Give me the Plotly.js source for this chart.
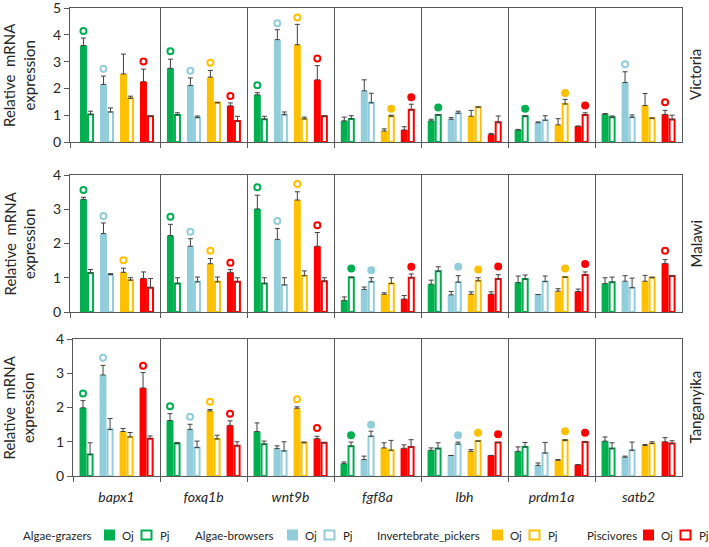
<!DOCTYPE html>
<html>
<head>
<meta charset="utf-8">
<script src="https://cdn.plot.ly/plotly-3.0.1.min.js"></script>
<style>html,body{margin:0;padding:0;background:#fff}#chart{width:709px;height:547px}</style>
</head>
<body>
<div id="chart"></div>
<script>
const genes = ['bapx1', 'foxq1b', 'wnt9b', 'fgf8a', 'lbh', 'prdm1a', 'satb2'];
const lakes = ['Victoria', 'Malawi', 'Tanganyika'];
const groups = ['Algae-grazers', 'Algae-browsers', 'Invertebrate_pickers', 'Piscivores'];
const colors = ['#00B050', '#92CDDC', '#FFC000', '#FF0000'];

// rows: grazers, browsers, invertebrate pickers, piscivores; cols: genes
const vicOj   = [[3.60, 2.75, 1.76, 0.79, 0.79, 0.45, 1.04],
                 [2.15, 2.11, 3.82, 1.91, 0.85, 0.72, 2.22],
                 [2.54, 2.42, 3.63, 0.41, 0.96, 0.64, 1.36],
                 [2.25, 1.35, 2.32, 0.45, 0.28, 0.59, 1.03]];
const vicOjSe = [[0.28, 0.34, 0.08, 0.14, 0.06, 0.02, 0.02],
                 [0.31, 0.28, 0.37, 0.41, 0.06, 0.03, 0.40],
                 [0.74, 0.25, 0.76, 0.08, 0.22, 0.23, 0.45],
                 [0.47, 0.11, 0.53, 0.12, 0.04, 0, 0.15]];
const vicPj   = [[1.03, 1.01, 0.85, 0.86, 1.01, 0.96, 0.92],
                 [1.12, 0.91, 1.02, 1.46, 1.07, 0.81, 0.92],
                 [1.63, 1.46, 0.86, 0.96, 1.30, 1.42, 0.89],
                 [0.96, 0.78, 0.96, 1.20, 0.74, 1.01, 0.84]];
const vicPjSe = [[0.12, 0.08, 0.11, 0.12, 0, 0.02, 0.05],
                 [0.15, 0.06, 0.10, 0.36, 0.08, 0.17, 0.09],
                 [0.08, 0.02, 0.07, 0.04, 0.01, 0.17, 0],
                 [0.01, 0.18, 0.01, 0.21, 0.23, 0.08, 0.16]];

const malOj   = [[3.29, 2.23, 3.01, 0.34, 0.81, 0.86, 0.83],
                 [2.29, 1.92, 2.12, 0.66, 0.50, 0.51, 0.90],
                 [1.16, 1.41, 3.27, 0.52, 0.52, 0.61, 0.90],
                 [0.98, 1.16, 1.92, 0.38, 0.52, 0.60, 1.42]];
const malOjSe = [[0.06, 0.33, 0.40, 0.10, 0.12, 0.19, 0.17],
                 [0.31, 0.22, 0.32, 0.07, 0.10, 0, 0.16],
                 [0.12, 0.15, 0.24, 0.04, 0.07, 0.07, 0.17],
                 [0.19, 0.08, 0.40, 0.10, 0.07, 0.07, 0.11]];
const malPj   = [[1.14, 0.83, 0.83, 1.01, 1.19, 0.96, 0.87],
                 [1.09, 0.88, 0.79, 0.88, 0.87, 0.89, 0.71],
                 [0.93, 0.88, 1.06, 0.83, 0.91, 1.02, 1.00],
                 [0.71, 0.88, 0.90, 1.00, 0.96, 1.08, 1.05]];
const malPjSe = [[0.10, 0.17, 0.17, 0.01, 0.13, 0.12, 0.15],
                 [0.03, 0.14, 0.21, 0.12, 0.19, 0.16, 0.28],
                 [0.07, 0.14, 0.14, 0.17, 0.09, 0, 0.02],
                 [0.27, 0.12, 0.10, 0.11, 0.13, 0.09, 0]];

const tanOj   = [[1.99, 1.62, 1.30, 0.36, 0.75, 0.72, 1.02],
                 [2.95, 1.36, 0.80, 0.48, 0.60, 0.31, 0.55],
                 [1.30, 1.90, 1.98, 0.82, 0.72, 0.46, 0.89],
                 [2.57, 1.48, 1.09, 0.81, 0.60, 0.33, 1.00]];
const tanOjSe = [[0.21, 0.20, 0.25, 0.05, 0.07, 0.13, 0.12],
                 [0.28, 0.15, 0.08, 0.10, 0, 0.07, 0.03],
                 [0.09, 0.04, 0.04, 0.15, 0.05, 0.02, 0.03],
                 [0.45, 0.13, 0.07, 0.10, 0, 0, 0.12]];
const tanPj   = [[0.63, 0.95, 0.93, 0.87, 0.80, 0.85, 0.80],
                 [1.36, 0.83, 0.73, 1.16, 0.93, 0.67, 0.75],
                 [1.14, 1.08, 0.97, 0.75, 1.02, 1.04, 0.95],
                 [1.09, 0.88, 0.97, 0.85, 0.98, 0.99, 0.95]];
const tanPjSe = [[0.34, 0.03, 0.09, 0.12, 0.17, 0.13, 0.17],
                 [0.32, 0.19, 0.27, 0.15, 0.06, 0.31, 0.24],
                 [0.13, 0.11, 0.02, 0.29, 0, 0.02, 0.05],
                 [0.08, 0.12, 0, 0.21, 0, 0.02, 0.08]];

// significance marks: [gene, group, over 'Oj' or 'Pj', y, filled]
const vicMarks = [[0,0,'Oj',4.14,0],[0,1,'Oj',2.73,0],[0,3,'Oj',3.00,0],
  [1,0,'Oj',3.39,0],[1,1,'Oj',2.66,0],[1,2,'Oj',2.96,0],[1,3,'Oj',1.72,0],
  [2,0,'Oj',2.12,0],[2,1,'Oj',4.43,0],[2,2,'Oj',4.65,0],[2,3,'Oj',3.12,0],
  [3,2,'Pj',1.24,1],[3,3,'Pj',1.67,1],[4,0,'Pj',1.29,1],
  [5,0,'Pj',1.24,1],[5,2,'Pj',1.83,1],[5,3,'Pj',1.36,1],
  [6,1,'Oj',2.90,0],[6,3,'Oj',1.48,0]];
const malMarks = [[0,0,'Oj',3.56,0],[0,1,'Oj',2.80,0],[0,2,'Oj',1.51,0],
  [1,0,'Oj',2.78,0],[1,1,'Oj',2.34,0],[1,2,'Oj',1.79,0],[1,3,'Oj',1.44,0],
  [2,0,'Oj',3.64,0],[2,1,'Oj',2.66,0],[2,2,'Oj',3.74,0],[2,3,'Oj',2.53,0],
  [3,0,'Pj',1.27,1],[3,1,'Pj',1.22,1],[3,3,'Pj',1.32,1],
  [4,1,'Pj',1.32,1],[4,2,'Pj',1.24,1],[4,3,'Pj',1.33,1],
  [5,2,'Pj',1.27,1],[5,3,'Pj',1.40,1],[6,3,'Oj',1.79,0]];
const tanMarks = [[0,0,'Oj',2.41,0],[0,1,'Oj',3.45,0],[0,3,'Oj',3.22,0],
  [1,0,'Oj',2.04,0],[1,1,'Oj',1.73,0],[1,2,'Oj',2.17,0],[1,3,'Oj',1.82,0],
  [2,2,'Oj',2.24,0],[2,3,'Oj',1.40,0],
  [3,0,'Pj',1.19,1],[3,1,'Pj',1.50,1],
  [4,1,'Pj',1.19,1],[4,2,'Pj',1.26,1],[4,3,'Pj',1.22,1],
  [5,2,'Pj',1.31,1],[5,3,'Pj',1.26,1]];

const lakeData = [
  {oj: vicOj, ojSe: vicOjSe, pj: vicPj, pjSe: vicPjSe, marks: vicMarks},
  {oj: malOj, ojSe: malOjSe, pj: malPj, pjSe: malPjSe, marks: malMarks},
  {oj: tanOj, ojSe: tanOjSe, pj: tanPj, pjSe: tanPjSe, marks: tanMarks}
];

const FONT = 'Lato, "DejaVu Sans", sans-serif';
const AX = '#595959';
const shift = [-0.345, -0.115, 0.115, 0.345];
const ojW = 0.08, pjOff = 0.012, pjW = 0.058;

function errs(se) {
  return {type: 'data', symmetric: false, array: se.map(v => v > 0 ? v : null),
          arrayminus: se.map(() => 0), color: '#404040', thickness: 1, width: 2.5};
}

const traces = [];
lakeData.forEach((d, i) => {
  const xa = i ? 'x' + (i + 1) : 'x';
  const ya = i ? 'y' + (i + 1) : 'y';
  groups.forEach((grp, k) => {
    const xs = genes.map((_, g) => g + shift[k]);
    traces.push({type: 'bar', x: xs, y: d.oj[k], xaxis: xa, yaxis: ya,
      offset: -ojW, width: ojW, marker: {color: colors[k], line: {width: 0}},
      error_y: errs(d.ojSe[k]), showlegend: false, hoverinfo: 'y', name: grp + ' Oj'});
    traces.push({type: 'bar', x: xs, y: d.pj[k], xaxis: xa, yaxis: ya,
      offset: pjOff, width: pjW, marker: {color: '#ffffff', line: {color: colors[k], width: 2}},
      error_y: errs(d.pjSe[k]), showlegend: false, hoverinfo: 'y', name: grp + ' Pj'});
  });
  const mx = d.marks.map(m => m[0] + shift[m[1]] + (m[2] === 'Oj' ? -ojW / 2 : pjOff + pjW / 2));
  const mc = d.marks.map(m => colors[m[1]]);
  traces.push({type: 'scatter', mode: 'markers', x: mx, y: d.marks.map(m => m[3]),
    xaxis: xa, yaxis: ya, showlegend: false, hoverinfo: 'skip',
    marker: {size: 6, color: mc, symbol: d.marks.map(m => m[4] ? 'circle' : 'circle-open'),
             line: {color: mc, width: 2}}});
});

const W = 709, H = 547, ML = 70, MR = 27, MT = 8, MB = 71;
const PW = W - ML - MR, PH = H - MT - MB;
const px2x = p => (p - ML) / PW;
const py2y = p => (H - MB - p) / PH;

// row extents in pixels (top, bottom)
const rowPx = [[8, 142], [175, 312], [339, 476]];
const yDomains = rowPx.map(r => [py2y(r[1]), py2y(r[0])]);
const yMax = [5, 4, 4];
const xStart = [-0.54, -0.54, -0.5];
const xDomains = [[0, 1], [0, 1], [3 / PW, 1]];

const layout = {
  width: W, height: H,
  margin: {l: ML, r: MR, t: MT, b: MB},
  paper_bgcolor: '#fff', plot_bgcolor: '#fff',
  barmode: 'overlay', showlegend: false,
  font: {family: FONT, color: '#333', size: 13},
  annotations: [], shapes: []
};

lakes.forEach((lake, i) => {
  const sfx = i ? String(i + 1) : '';
  layout['xaxis' + sfx] = {
    domain: xDomains[i], range: [xStart[i], 6.5], anchor: 'y' + sfx,
    tickvals: genes.map((_, g) => g), ticktext: genes, ticks: '',
    showticklabels: i === 2, tickfont: {size: 14, style: 'italic', color: '#262626'},
    ticklabelstandoff: 8,
    showgrid: false, zeroline: false, showline: true, mirror: true, linecolor: AX, linewidth: 1,
    minor: {tickvals: [xStart[i], 0.5, 1.5, 2.5, 3.5, 4.5, 5.5], ticks: 'outside', ticklen: 5,
            tickcolor: AX, showgrid: true, gridcolor: AX, gridwidth: 1}
  };
  layout['yaxis' + sfx] = {
    domain: yDomains[i], range: [0, yMax[i]], anchor: 'x' + sfx, dtick: 1,
    ticks: 'outside', ticklen: 5, tickcolor: AX, tickfont: {size: 14, color: '#262626'},
    ticklabeloverflow: 'allow',
    showgrid: false, zeroline: false, showline: true, mirror: true, linecolor: AX, linewidth: 1
  };
  layout.annotations.push({
    text: 'Relative  mRNA<br>expression', textangle: -90, showarrow: false,
    xref: 'paper', yref: 'y' + sfx + ' domain', x: px2x(19), y: 0.5,
    xanchor: 'center', yanchor: 'middle', font: {size: 15, color: '#262626'}
  });
  layout.annotations.push({
    text: lake, textangle: -90, showarrow: false,
    xref: 'paper', yref: 'y' + sfx + ' domain', x: px2x(695), y: 0.5,
    xanchor: 'center', yanchor: 'middle', font: {size: 15, color: '#262626'}
  });
});

// legend drawn along the bottom
const legLabelX = [21, 193, 375, 585];
const legSwatchX = [104, 287, 492, 643];
const legY = 535, sw = 11;
groups.forEach((grp, k) => {
  const s = legSwatchX[k];
  const lf = {size: 11.5, color: '#262626'};
  layout.annotations.push({text: grp, showarrow: false, xref: 'paper', yref: 'paper',
    x: px2x(legLabelX[k]), y: py2y(legY), xanchor: 'left', yanchor: 'middle', font: lf});
  layout.annotations.push({text: 'Oj', showarrow: false, xref: 'paper', yref: 'paper',
    x: px2x(s + 16), y: py2y(legY), xanchor: 'left', yanchor: 'middle', font: lf});
  layout.annotations.push({text: 'Pj', showarrow: false, xref: 'paper', yref: 'paper',
    x: px2x(s + 54), y: py2y(legY), xanchor: 'left', yanchor: 'middle', font: lf});
  layout.shapes.push({type: 'rect', xref: 'paper', yref: 'paper',
    x0: px2x(s), x1: px2x(s + sw), y0: py2y(legY + sw / 2), y1: py2y(legY - sw / 2),
    fillcolor: colors[k], line: {width: 0}});
  layout.shapes.push({type: 'rect', xref: 'paper', yref: 'paper',
    x0: px2x(s + 37.5), x1: px2x(s + 36.5 + sw), y0: py2y(legY + sw / 2 - 1), y1: py2y(legY - sw / 2 + 1),
    fillcolor: '#fff', line: {color: colors[k], width: 2}});
});

Plotly.newPlot('chart', traces, layout, {displayModeBar: false, staticPlot: true});
</script>
</body>
</html>
